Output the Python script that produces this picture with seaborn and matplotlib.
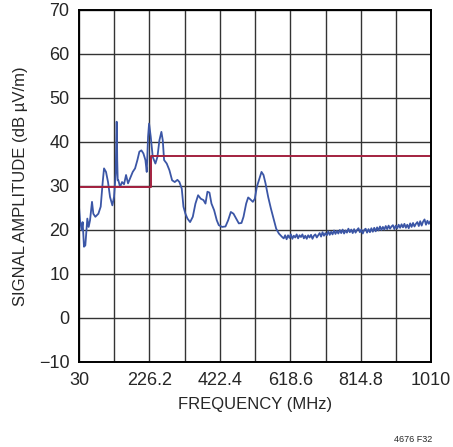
import numpy as np
import matplotlib
matplotlib.use("Agg")
import matplotlib.pyplot as plt
import seaborn as sns
import pandas as pd

# measured emission trace (MHz, dB uV/m)
freq_mhz = [30, 32.8, 37.4, 40.2, 43.9, 47.6, 53.2, 56.9, 60.7, 66.2, 69.9, 75.5,
            83.9, 90.4, 96, 99.7, 105.2, 110.8, 116.4, 122.9, 127.5, 132.2, 134.6,
            135.2, 136.4, 137.8, 139.6, 144.3, 149.8, 155.4, 161, 166.5, 172.1, 179.6,
            186.1, 192.6, 198.1, 203.7, 209.3, 214.9, 218.6, 222.3, 225.1, 229.7,
            235.3, 242.7, 248.3, 253.9, 259.4, 263.2, 266.9, 274.3, 281.7, 289.2,
            296.6, 304, 309.6, 316.1, 320.8, 326.3, 331.9, 339.3, 346.8, 354.2,
            361.6, 369.1, 376.5, 382.1, 387.6, 393.2, 398.8, 406.2, 413.6, 419.2,
            428.5, 437.8, 445.2, 452.7, 460.1, 467.5, 475, 482.4, 488, 495.4, 501,
            506.5, 514, 519.5, 525.1, 532.5, 538.1, 543.7, 549.3, 556.7, 564.2,
            571.6, 579, 586.4, 595.7,
            600, 604, 608, 612, 616, 620, 624, 628, 632, 636, 640, 644, 648, 652,
            656, 660, 664, 668, 672, 676, 680, 684, 688, 692, 696, 700, 704, 708,
            712, 716, 720, 724, 728, 732, 736, 740, 744, 748, 752, 756, 760, 764,
            768, 772, 776, 780, 784, 788, 792, 796, 800, 804, 808, 812, 816, 820,
            824, 828, 832, 836, 840, 844, 848, 852, 856, 860, 864, 868, 872, 876,
            880, 884, 888, 892, 896, 900, 904, 908, 912, 916, 920, 924, 928, 932,
            936, 940, 944, 948, 952, 956, 960, 964, 968, 972, 976, 980, 984, 988,
            992, 996, 1000, 1004, 1008, 1010]
amplitude = [25.3, 22.2, 20.0, 21.8, 16.2, 16.5, 22.6, 20.7, 22.2, 26.4, 23.7, 23.0,
             23.7, 25.3, 30.9, 34.0, 33.2, 30.9, 27.5, 25.6, 27.5, 32.8, 44.6,
             44.6, 36.0, 31.3, 31.3, 29.8, 30.9, 30.4, 32.5, 30.6, 31.7, 33.2,
             34.0, 35.9, 37.8, 38.1, 37.4, 35.9, 33.2, 41.2, 44.2, 41.2,
             36.6, 35.1, 36.6, 40.4, 42.3, 40.4, 35.9, 35.1, 33.6, 31.3,
             30.9, 31.4, 30.9, 29.4, 25.3, 23.7, 22.6, 21.8, 23.0, 26.0,
             27.9, 27.1, 26.8, 26.0, 28.7, 28.5, 26.0, 24.5, 22.2, 21.1,
             20.7, 20.8, 22.2, 24.1, 23.7, 22.6, 21.5, 21.6, 23.0, 26.0, 27.4,
             27.0, 26.4, 27.1, 29.8, 31.7, 33.2, 32.5, 30.6, 27.5, 24.9,
             22.6, 20.3, 19.2, 18.4,
             18.1, 18.8, 17.9, 18.8, 18.2, 19.0, 18.0, 18.7, 18.3, 19.0, 18.1, 18.8,
             18.4, 19.0, 18.1, 18.7, 18.0, 18.8, 18.3, 18.9, 18.0, 18.7, 19.0, 18.3,
             18.8, 19.3, 18.5, 19.5, 18.7, 19.3, 18.8, 19.7, 18.9, 19.6, 19.0, 19.9,
             19.1, 19.8, 19.2, 20.0, 19.3, 20.1, 19.2, 19.9, 19.4, 20.3, 19.5, 20.1,
             19.3, 20.2, 19.4, 20.0, 20.4, 19.5, 20.1, 19.2, 20.0, 20.3, 19.4, 20.2,
             19.5, 20.4, 19.6, 20.5, 19.7, 20.6, 19.9, 20.8, 20.0, 20.7, 20.1, 20.9,
             20.2, 21.0, 20.3, 20.8, 21.1, 20.2, 21.0, 20.4, 21.2, 20.5, 21.3, 20.6,
             21.4, 20.5, 21.2, 20.4, 21.5, 20.7, 21.6, 20.8, 21.4, 21.8, 20.9, 22.0,
             21.0, 21.9, 22.4, 21.2, 22.1, 21.4, 22.0, 21.3]

# limit line (step)
limit_freq = [30, 230, 230, 1010]
limit_level = [29.7, 29.7, 36.8, 36.8]

x_ticks = [30, 226.2, 422.4, 618.6, 814.8, 1010]
y_ticks = list(range(-10, 71, 10))

sns.set_style("white")
plt.rcParams['font.family'] = ['Liberation Sans', 'DejaVu Sans']

fig = plt.figure(figsize=(4.53, 4.47), dpi=100)
ax = fig.add_axes([79 / 453, 85 / 447, 352 / 453, 352 / 447])

trace = pd.DataFrame({'f': freq_mhz, 'a': amplitude})
sns.lineplot(data=trace, x='f', y='a', ax=ax, color='#3b56a6', linewidth=1.3,
             sort=False, estimator=None)
ax.plot(limit_freq, limit_level, color='#a3213f', linewidth=1.4)

ax.set_xlim(30, 1010)
ax.set_ylim(-10, 70)
ax.set_xticks(x_ticks)
ax.set_xticklabels(["30", "226.2", "422.4", "618.6", "814.8", "1010"])
ax.set_xticks(np.arange(30, 1011, 98.1), minor=True)
ax.set_yticks(y_ticks)
ax.set_yticklabels(["\u221210"] + [str(v) for v in y_ticks[1:]])
ax.grid(True, which='both', color='#333333', linewidth=1.0)
ax.set_axisbelow(True)
ax.tick_params(which='both', length=0, labelsize=13, pad=7)
for s in ax.spines.values():
    s.set_color('black')
    s.set_linewidth(1.4)

ax.set_xlabel("FREQUENCY (MHz)", fontsize=12, labelpad=6)
ax.set_ylabel("SIGNAL AMPLITUDE (dB \u00b5V/m)", fontsize=12, labelpad=8)

fig.text(432 / 453, 1 - 440 / 447, "4676 F32", fontsize=6.5, ha='right', va='center')

fig.savefig("out.png", dpi=100)
